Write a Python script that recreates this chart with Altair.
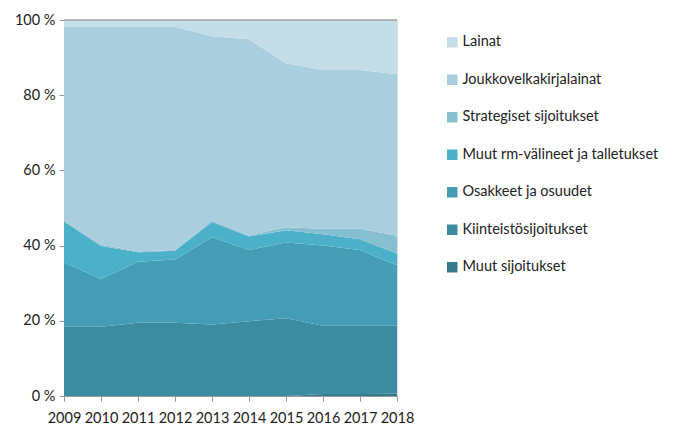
import altair as alt
import pandas as pd

years = [2009, 2010, 2011, 2012, 2013, 2014, 2015, 2016, 2017, 2018]

series_names = [
    "Muut sijoitukset",
    "Kiinteistösijoitukset",
    "Osakkeet ja osuudet",
    "Muut rm-välineet ja talletukset",
    "Strategiset sijoitukset",
    "Joukkovelkakirjalainat",
    "Lainat",
]

muut_sijoitukset = [0, 0, 0, 0, 0, 0, 0, 0.5, 0.5, 0.6]
kiinteisto = [18.4, 18.4, 19.5, 19.5, 19.0, 19.9, 20.7, 18.2, 18.2, 18.1]
osakkeet = [17.1, 12.7, 16.2, 16.8, 23.2, 18.9, 20.1, 21.3, 20.1, 16.1]
muut_rm = [10.9, 8.8, 2.5, 2.3, 4.1, 3.6, 3.3, 3.0, 2.9, 3.1]
strategiset = [0.2, 0.4, 0.2, 0.2, 0.4, 0.3, 0.8, 1.5, 2.8, 4.7]
joukkovelka = [51.6, 57.9, 59.8, 59.4, 49.0, 52.2, 43.6, 42.2, 42.2, 43.0]
lainat = [1.8, 1.8, 1.8, 1.8, 4.3, 5.1, 11.5, 13.3, 13.3, 14.4]

colors = ["#357b8c", "#3b8ba1", "#459db5", "#4cb0c9", "#86bfcf", "#a9cedd", "#c4dde6"]

y_ticks = [0, 20, 40, 60, 80, 100]

series_values = [muut_sijoitukset, kiinteisto, osakkeet, muut_rm, strategiset, joukkovelka, lainat]

rows = []
for idx, (name, vals) in enumerate(zip(series_names, series_values)):
    for yr, v in zip(years, vals):
        rows.append({"Vuosi": yr, "Sarja": name, "Osuus": v, "Järjestys": idx})
df = pd.DataFrame(rows)

FONT = "Lato"

legend_domain = list(reversed(series_names))
legend_range = list(reversed(colors))

area = alt.Chart(df).mark_area(opacity=1).encode(
    x=alt.X(
        "Vuosi:Q",
        scale=alt.Scale(domain=[years[0], years[-1]], nice=False, zero=False),
        axis=alt.Axis(
            values=years,
            format="d",
            title=None,
            grid=False,
            labelFontSize=14.5,
            labelColor="#222222",
            labelFont=FONT,
            domainColor="#999999",
            tickColor="#999999",
            tickSize=5,
            labelPadding=10,
            labelFlush=False,
        ),
    ),
    y=alt.Y(
        "Osuus:Q",
        stack="zero",
        scale=alt.Scale(domain=[0, 100], nice=False),
        axis=alt.Axis(
            values=y_ticks,
            labelExpr="datum.value + ' %'",
            title=None,
            grid=False,
            labelFontSize=14.5,
            labelColor="#222222",
            labelFont=FONT,
            domainColor="#999999",
            tickColor="#999999",
            tickSize=5,
            labelPadding=4,
        ),
    ),
    color=alt.Color(
        "Sarja:N",
        scale=alt.Scale(domain=legend_domain, range=legend_range),
        legend=alt.Legend(
            title=None,
            orient="none",
            legendX=381,
            legendY=15,
            symbolType="square",
            symbolSize=110,
            symbolStrokeWidth=0,
            labelFontSize=14.5,
            labelFont=FONT,
            labelColor="#222222",
            rowPadding=22.5,
            labelOffset=3,
            labelLimit=300,
        ),
    ),
    order=alt.Order("Järjestys:Q", sort="ascending"),
)

top_rule = alt.Chart(pd.DataFrame({"y": [100]})).mark_rule(color="#a0a0a0", strokeWidth=1.5).encode(
    y=alt.Y("y:Q", scale=alt.Scale(domain=[0, 100]))
)

chart = alt.layer(area, top_rule).properties(
    width=333,
    height=376,
    autosize=alt.AutoSizeParams(type="none"),
    padding={"left": 56, "top": 12, "right": 270, "bottom": 30},
).configure_view(stroke=None).configure(background="white")

chart.save("out.html", embed_options={"renderer": "svg", "actions": False})
